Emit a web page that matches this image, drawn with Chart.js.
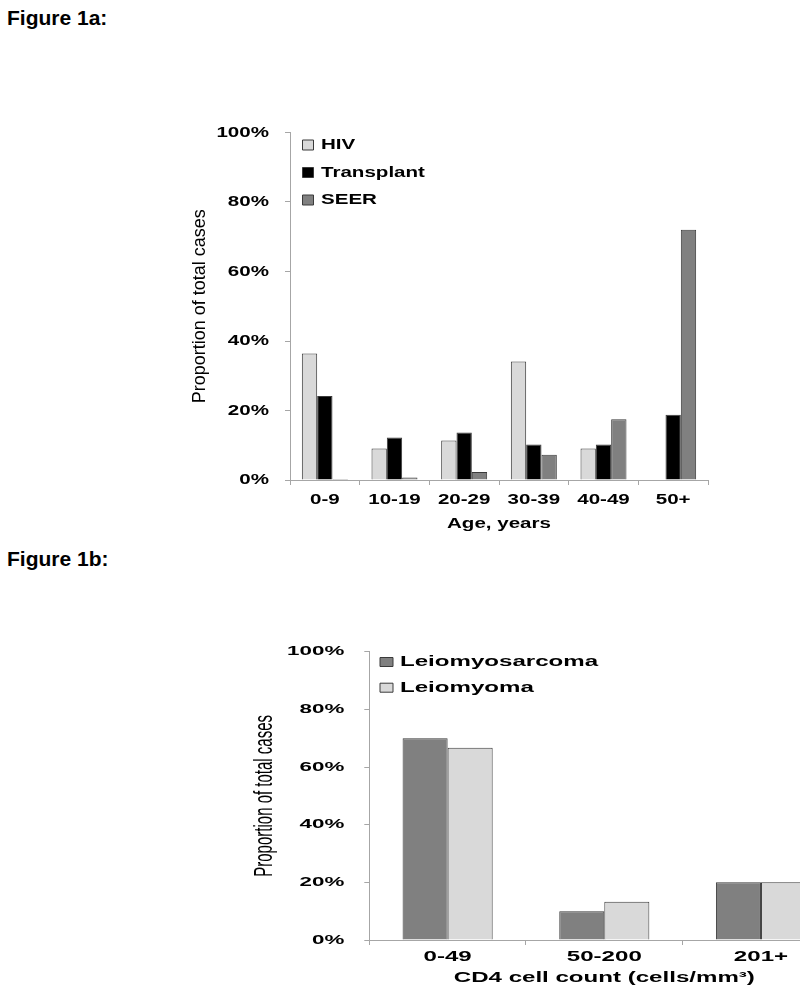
<!DOCTYPE html>
<html>
<head>
<meta charset="utf-8">
<script src="https://cdn.jsdelivr.net/npm/chart.js@4.4.1/dist/chart.umd.min.js"></script>
<style>
  html, body { margin: 0; padding: 0; background: #fff; }
  body { width: 800px; height: 993px; position: relative; overflow: hidden; }
  .figtitle { position: absolute; left: 7px; font-family: 'Liberation Sans', Arial, sans-serif; font-weight: bold; font-size: 21px; line-height: 21px; color: #000; white-space: nowrap; }
  #c1 { position: absolute; left: 0; top: 100px; }
  #c2 { position: absolute; left: 0; top: 600px; }
</style>
</head>
<body>
<div class="figtitle" style="top:7px">Figure 1a:</div>
<div class="figtitle" style="top:548px">Figure 1b:</div>
<canvas id="c1" width="740" height="440"></canvas>
<canvas id="c2" width="880" height="393"></canvas>
<script>
// ---------- data ----------
const ageCategories = ['0-9', '10-19', '20-29', '30-39', '40-49', '50+'];
const hivValues = [36.4, 9.1, 11.4, 34.1, 9.1, 0];
const transplantValues = [24.2, 12.2, 13.7, 10.2, 10.2, 18.8];
const seerValues = [0.3, 0.7, 2.3, 7.3, 17.5, 72.0];

const cd4Categories = ['0-49', '50-200', '201+'];
const leiomyosarcomaValues = [70, 10, 20];
const leiomyomaValues = [66.7, 13.3, 20];

const yMin = 0, yMax = 100, yStep = 20;

// ---------- styling ----------
const FONT = "'Liberation Sans', Arial, Helvetica, sans-serif";
const AXIS = '#a6a6a6';
const BORDER = '#3a3a3a';
const LIGHT = '#d9d9d9';
const DARK = '#808080';
const BLACK = '#000000';

Chart.defaults.font.family = FONT;
Chart.defaults.color = '#000';

// widen horizontal text (the reference text is horizontally stretched)
function stretchText(ctx, sH, sR) {
  const fill = ctx.fillText.bind(ctx);
  const measure = ctx.measureText.bind(ctx);
  ctx.fillText = function (text, x, y, maxWidth) {
    const m = ctx.getTransform();
    const rotated = Math.abs(m.b) > 1e-6 || Math.abs(m.c) > 1e-6;
    ctx.save();
    ctx.translate(x, y);
    if (rotated) ctx.scale(1, sR); else ctx.scale(sH, 1);
    if (maxWidth === undefined || maxWidth === null) fill(text, 0, 0);
    else fill(text, 0, 0, rotated ? maxWidth : maxWidth / sH);
    ctx.restore();
  };
  ctx.measureText = function (text) {
    const r = measure(text);
    return {
      width: r.width * sH,
      actualBoundingBoxAscent: r.actualBoundingBoxAscent,
      actualBoundingBoxDescent: r.actualBoundingBoxDescent,
      actualBoundingBoxLeft: r.actualBoundingBoxLeft * sH,
      actualBoundingBoxRight: r.actualBoundingBoxRight * sH
    };
  };
}

function legendPlace(dx, dy) {
  return {
    id: 'legendPlace',
    afterLayout(chart) {
      const lg = chart.legend, ca = chart.chartArea;
      if (!lg) return;
      const w = lg.width, h = lg.height;
      lg.left = ca.left + dx; lg.top = ca.top + dy;
      lg.right = lg.left + w; lg.bottom = lg.top + h;
    }
  };
}

function makeChart(canvasId, cfg) {
  const canvas = document.getElementById(canvasId);
  const ctx = canvas.getContext('2d');
  stretchText(ctx, cfg.sH, cfg.sR);
  return new Chart(ctx, {
    type: 'bar',
    data: { labels: cfg.labels, datasets: cfg.datasets },
    options: {
      responsive: false,
      animation: false,
      events: [],
      layout: { padding: cfg.padding },
      datasets: { bar: { categoryPercentage: cfg.catPct, barPercentage: 1.0, borderWidth: 1, borderColor: BORDER } },
      scales: {
        x: {
          grid: { display: true, drawOnChartArea: false, drawTicks: true, tickLength: 5, color: AXIS, offset: true },
          border: { display: true, color: AXIS, width: 1 },
          ticks: { font: { size: cfg.xFont, weight: 'bold' }, color: '#000', padding: cfg.xPad, maxRotation: 0, autoSkip: false },
          title: { display: true, text: cfg.xTitle, font: { size: cfg.xFont, weight: 'bold' }, color: '#000', padding: { top: cfg.xTitlePad, bottom: 0 } }
        },
        y: {
          min: yMin, max: yMax,
          grid: { display: true, drawOnChartArea: false, drawTicks: true, tickLength: 5, color: AXIS },
          border: { display: true, color: AXIS, width: 1 },
          ticks: { stepSize: yStep, font: { size: cfg.yFont, weight: 'bold' }, color: '#000', padding: cfg.yPad, callback: v => v + '%' },
          title: { display: true, text: 'Proportion of total cases', font: { size: cfg.yTitleFont, weight: 'normal' }, color: '#000', padding: { top: cfg.yTitlePad, bottom: 0 } },
          afterFit(scale) { scale.width = cfg.yWidth; }
        }
      },
      plugins: {
        tooltip: { enabled: false },
        legend: {
          position: 'chartArea',
          align: 'start',
          labels: { font: { size: cfg.legendFont, weight: 'bold' }, color: '#000', boxWidth: cfg.boxW, boxHeight: cfg.boxH, padding: cfg.legendPad }
        }
      }
    },
    plugins: [legendPlace(cfg.legendDx, cfg.legendDy)]
  });
}

// ---------- Figure 1a ----------
makeChart('c1', {
  sH: 1.37, sR: 1.0,
  labels: ageCategories,
  datasets: [
    { label: 'HIV', data: hivValues, backgroundColor: LIGHT },
    { label: 'Transplant', data: transplantValues, backgroundColor: BLACK },
    { label: 'SEER', data: seerValues, backgroundColor: DARK }
  ],
  padding: { left: 185, top: 32.5, right: 32, bottom: 7 },
  catPct: 0.66,
  xFont: 15, xPad: 6, xTitle: 'Age, years', xTitlePad: 0,
  yFont: 15, yPad: 16, yTitleFont: 18, yTitlePad: 4, yWidth: 105,
  legendFont: 15, boxW: 11, boxH: 10, legendPad: 12.5, legendDx: 0, legendDy: -7.5
});

// ---------- Figure 1b ----------
makeChart('c2', {
  sH: 1.72, sR: 1.75,
  labels: cd4Categories,
  datasets: [
    { label: 'Leiomyosarcoma', data: leiomyosarcomaValues, backgroundColor: DARK },
    { label: 'Leiomyoma', data: leiomyomaValues, backgroundColor: LIGHT }
  ],
  padding: { left: 250, top: 51.7, right: 40.7, bottom: 6.4 },
  catPct: 0.575,
  xFont: 14, xPad: 4, xTitle: 'CD4 cell count (cells/mm³)', xTitlePad: 0,
  yFont: 13, yPad: 20, yTitleFont: 15, yTitlePad: 6, yWidth: 119.3,
  legendFont: 14, boxW: 13, boxH: 9, legendPad: 11.7, legendDx: -1, legendDy: -8.4
});
</script>
</body>
</html>
